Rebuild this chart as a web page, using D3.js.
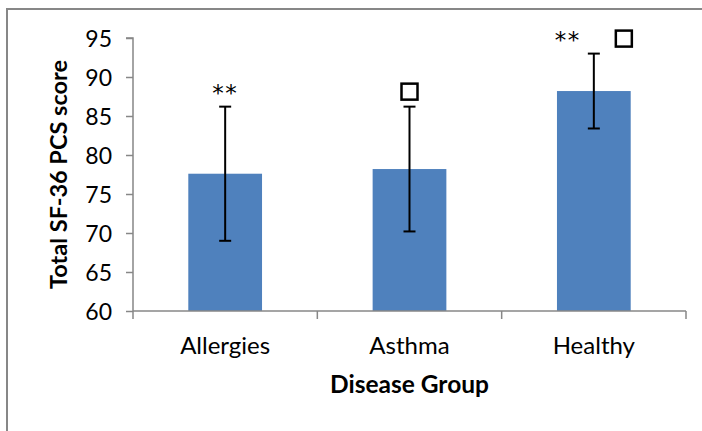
<!DOCTYPE html>
<html>
<head>
<meta charset="utf-8">
<script src="https://cdn.jsdelivr.net/npm/d3@7"></script>
<style>
  html, body { margin: 0; padding: 0; background: #fff; }
  svg { display: block; }
  text { font-family: Lato, "Open Sans", sans-serif; fill: #000; }
</style>
</head>
<body>
<svg id="chart" width="702" height="431"></svg>
<script>
// Data
const categories = ["Allergies", "Asthma", "Healthy"];
const means = [77.6, 78.2, 88.2];
const errLow = [69.0, 70.2, 83.4];
const errHigh = [86.2, 86.2, 93.0];
const starMarks = ["**", "", "**"];
const boxMarks = [false, true, true];
const yTicks = [60, 65, 70, 75, 80, 85, 90, 95];
const yTitle = "Total SF-36 PCS score";
const xTitle = "Disease Group";

(function () {
const svg = d3.select("#chart");
const W = 702, H = 431;
const mLeft = 133, mRight = 686, mTop = 38, mBottom = 311;

// outer border
svg.append("rect").attr("x", 7).attr("y", 9).attr("width", W + 10).attr("height", H + 10)
  .attr("fill", "none").attr("stroke", "#878787").attr("stroke-width", 2);

const y = d3.scaleLinear().domain([60, 95]).range([mBottom, mTop]);
const x = d3.scaleBand().domain(categories).range([mLeft, mRight]).paddingInner(0.6).paddingOuter(0.3);

// bars
svg.selectAll("rect.bar").data(categories).join("rect")
  .attr("class", "bar")
  .attr("x", d => x(d))
  .attr("width", x.bandwidth())
  .attr("y", (d, i) => y(means[i]))
  .attr("height", (d, i) => y(60) - y(means[i]))
  .attr("fill", "#4F81BD");

// y axis
const yAxis = d3.axisLeft(y).tickValues(yTicks).tickSize(7).tickPadding(14).tickFormat(d3.format("d"));
const gy = svg.append("g").attr("transform", `translate(${mLeft},0)`).call(yAxis);
gy.select(".domain").attr("stroke", "#878787").attr("stroke-width", 1.5).attr("d", `M-7,${mTop}H0V${mBottom}`);
gy.selectAll(".tick line").attr("stroke", "#878787").attr("stroke-width", 1.5);
gy.selectAll(".tick text").attr("font-size", 23).attr("fill", "#000").attr("dy", "0.36em");

// x axis
svg.append("line").attr("x1", mLeft).attr("x2", mRight).attr("y1", mBottom).attr("y2", mBottom)
  .attr("stroke", "#878787").attr("stroke-width", 1.5);
const edges = d3.range(categories.length + 1).map(i => x.range()[0] + i * x.step());
svg.selectAll("line.xtick").data(edges).join("line").attr("class", "xtick")
  .attr("x1", d => d).attr("x2", d => d).attr("y1", mBottom).attr("y2", mBottom + 8)
  .attr("stroke", "#878787").attr("stroke-width", 1.5);
svg.selectAll("text.xlab").data(categories).join("text").attr("class", "xlab")
  .attr("x", d => x(d) + x.bandwidth() / 2).attr("y", 354)
  .attr("text-anchor", "middle").attr("font-size", 24).text(d => d);

// error bars
const cx = d => x(d) + x.bandwidth() / 2;
const eb = svg.append("g").attr("stroke", "#000").attr("stroke-width", 2);
categories.forEach((c, i) => {
  eb.append("line").attr("x1", cx(c)).attr("x2", cx(c)).attr("y1", y(errHigh[i])).attr("y2", y(errLow[i]));
  eb.append("line").attr("x1", cx(c) - 6).attr("x2", cx(c) + 6).attr("y1", y(errHigh[i])).attr("y2", y(errHigh[i]));
  eb.append("line").attr("x1", cx(c) - 6).attr("x2", cx(c) + 6).attr("y1", y(errLow[i])).attr("y2", y(errLow[i]));
});

// significance marks
categories.forEach((c, i) => {
  const both = starMarks[i] && boxMarks[i];
  const my = y(errHigh[i]) - 15;
  if (starMarks[i]) {
    svg.append("text").attr("x", cx(c) + (both ? -26 : 0)).attr("y", my + 9)
      .attr("text-anchor", "middle").style("font-family", "'DejaVu Sans', sans-serif")
      .attr("font-size", 23).attr("letter-spacing", 1.5).text(starMarks[i]);
  }
  if (boxMarks[i]) {
    const bx = cx(c) + (both ? 30 : 0);
    svg.append("rect").attr("x", bx - 8).attr("y", my - 8).attr("width", 16).attr("height", 16)
      .attr("fill", "none").attr("stroke", "#000").attr("stroke-width", 2.5);
  }
});

// axis titles
svg.append("text").attr("x", (mLeft + mRight) / 2).attr("y", 393).attr("text-anchor", "middle")
  .attr("font-size", 24.5).attr("font-weight", "bold").text(xTitle);
svg.append("text").attr("transform", `translate(67,${(mTop + mBottom) / 2}) rotate(-90)`)
  .attr("text-anchor", "middle").attr("font-size", 23.5).attr("font-weight", "bold").text(yTitle);
})();
</script>
</body>
</html>
